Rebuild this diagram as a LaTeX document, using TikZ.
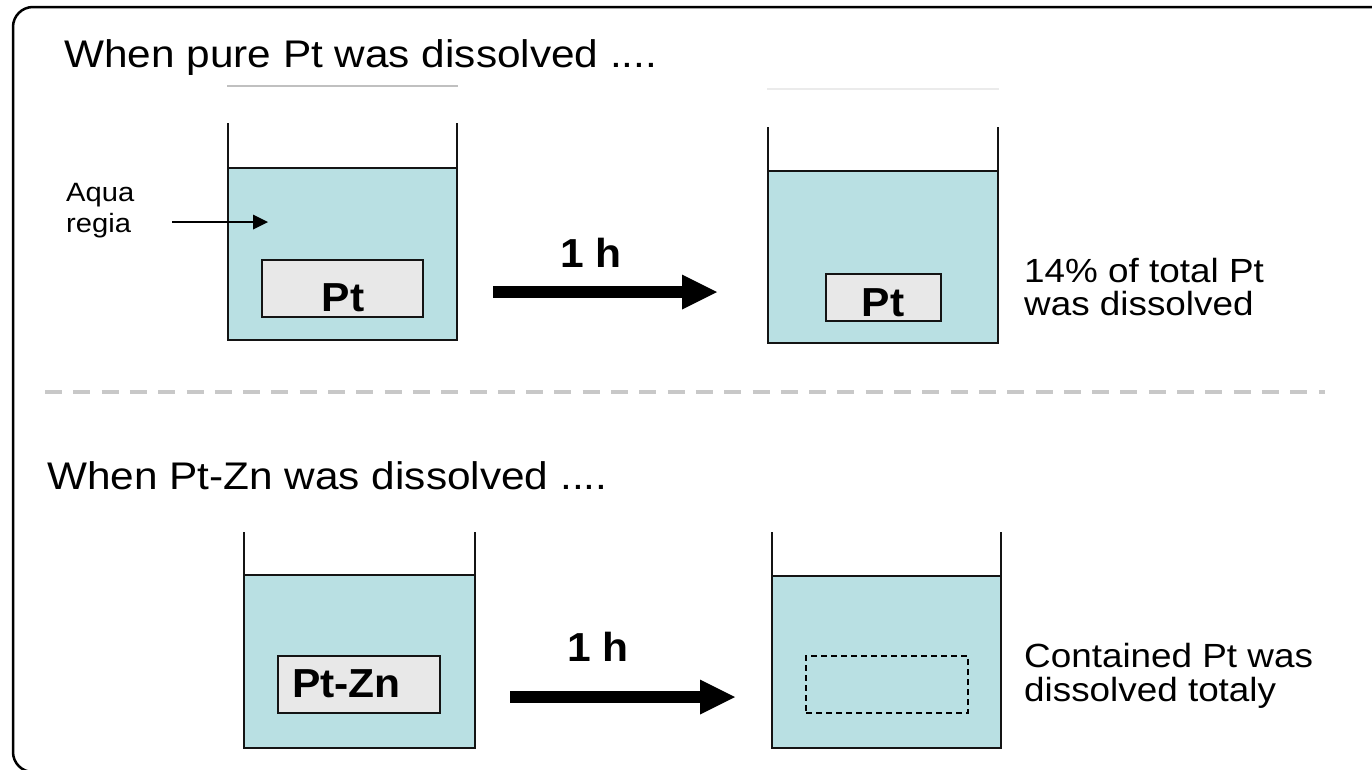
\documentclass[tikz,border=0pt]{standalone}
\usepackage{fontspec}
\setmainfont{Liberation Sans}
\usetikzlibrary{arrows.meta}
\definecolor{liquid}{RGB}{185,224,227}
\definecolor{metal}{RGB}{232,232,232}
\definecolor{sepgray}{RGB}{200,200,200}
\definecolor{faintA}{RGB}{192,192,192}
\definecolor{faintB}{RGB}{235,235,235}
\definecolor{wall}{RGB}{20,20,20}
\newcommand\mybeaker[5]{%
  \fill[liquid] (#1,#4) rectangle (#2,#5);
  \draw[beakerline] (#1,#3) -- (#1,#5) -- (#2,#5) -- (#2,#3);
  \draw[beakerline] (#1,#4) -- (#2,#4);}
\newcommand\wide[1]{\scalebox{1.1}[1]{#1}}
\newcommand\bwide[1]{\scalebox{1.05}[1]{#1}}
\begin{document}
\begin{tikzpicture}[x=1pt,y=-1pt,
  beakerline/.style={draw=wall,line width=2.2pt},
  metalbox/.style={draw=wall,fill=metal,line width=2pt,inner sep=0pt},
  ghostbox/.style={draw=black,line width=1.5pt,dash pattern=on 6pt off 4pt,inner sep=0pt},
  boldlbl/.style={font=\fontsize{40.5}{46}\selectfont\bfseries,inner sep=0pt},
  titletxt/.style={font=\fontsize{38.5}{44}\selectfont,inner sep=0pt,anchor=base west},
  sidetxt/.style={font=\fontsize{33.5}{38}\selectfont,inner sep=0pt,anchor=base west},
  smalltxt/.style={font=\fontsize{26.5}{30}\selectfont,inner sep=0pt,anchor=base west},
  bigarrow/.style={line width=12pt,-{Triangle[length=35pt,width=35pt,line width=0pt 0 0]}},
  thinarrow/.style={line width=1.5pt,-{Triangle[length=15pt,width=15pt,line width=0pt 0 0]}}]
\useasboundingbox (0,0) rectangle (1372,769);
\clip (0,0) rectangle (1372,769);
% frame
\draw[line width=2.5pt,rounded corners=20pt] (13,7) rectangle (1395,772);
% faint lines above the top beakers
\draw[faintA,line width=1.5pt] (227,86) -- (458,86);
\draw[faintB,line width=1.5pt] (767,89) -- (999,89);
% titles
\node[titletxt] (t1) at (64,67) {\wide{When pure Pt was dissolved ....}};
\node[titletxt] (t2) at (47,489) {\wide{When Pt-Zn was dissolved ....}};
% beakers
\mybeaker{228}{457}{123}{168}{340}
\mybeaker{768}{998}{127}{171}{343}
\mybeaker{244}{475}{532}{575}{748}
\mybeaker{772}{1001}{532}{576}{748}
% metal boxes
\node[metalbox,minimum width=161pt,minimum height=57pt] (box1) at (342.5,288.5) {};
\node[boldlbl,anchor=base] (pt1) at (343,311) {\bwide{Pt}};
\node[metalbox,minimum width=115pt,minimum height=47pt] (box2) at (883.5,297.5) {};
\node[boldlbl,anchor=base] (pt2) at (883,316) {\bwide{Pt}};
\node[metalbox,minimum width=162pt,minimum height=57pt] (box3) at (359,684.5) {};
\node[boldlbl,anchor=base] (ptzn) at (346.5,697) {\bwide{Pt-Zn}};
\node[ghostbox,minimum width=162pt,minimum height=57pt] (box4) at (887,684.5) {};
% aqua regia
\node[smalltxt] (aq1) at (66,201) {\wide{Aqua}};
\node[smalltxt] (aq2) at (66,232) {\wide{regia}};
\coordinate (aqs) at (172,222);
\coordinate (aqe) at (268,222);
\draw[thinarrow] (aqs) -- (aqe);
% reaction arrows
\coordinate (r1s) at (493,292);
\coordinate (r1e) at (717,292);
\draw[bigarrow] (r1s) -- (r1e);
\node[boldlbl,anchor=base] (h1) at (591,267) {\bwide{1 h}};
\coordinate (r2s) at (510,697);
\coordinate (r2e) at (735,697);
\draw[bigarrow] (r2s) -- (r2e);
\node[boldlbl,anchor=base] (h2) at (598,661) {\bwide{1 h}};
% side texts
\node[sidetxt] (s1) at (1024,282) {\wide{14\% of total Pt}};
\node[sidetxt] (s2) at (1024,315) {\wide{was dissolved}};
\node[sidetxt] (s3) at (1024,667) {\wide{Contained Pt was}};
\node[sidetxt] (s4) at (1024,701) {\wide{dissolved totaly}};
% separator
\draw[sepgray,line width=4pt,dash pattern=on 17pt off 11.3pt] (45,392) -- (1325,392);
\end{tikzpicture}
\end{document}
